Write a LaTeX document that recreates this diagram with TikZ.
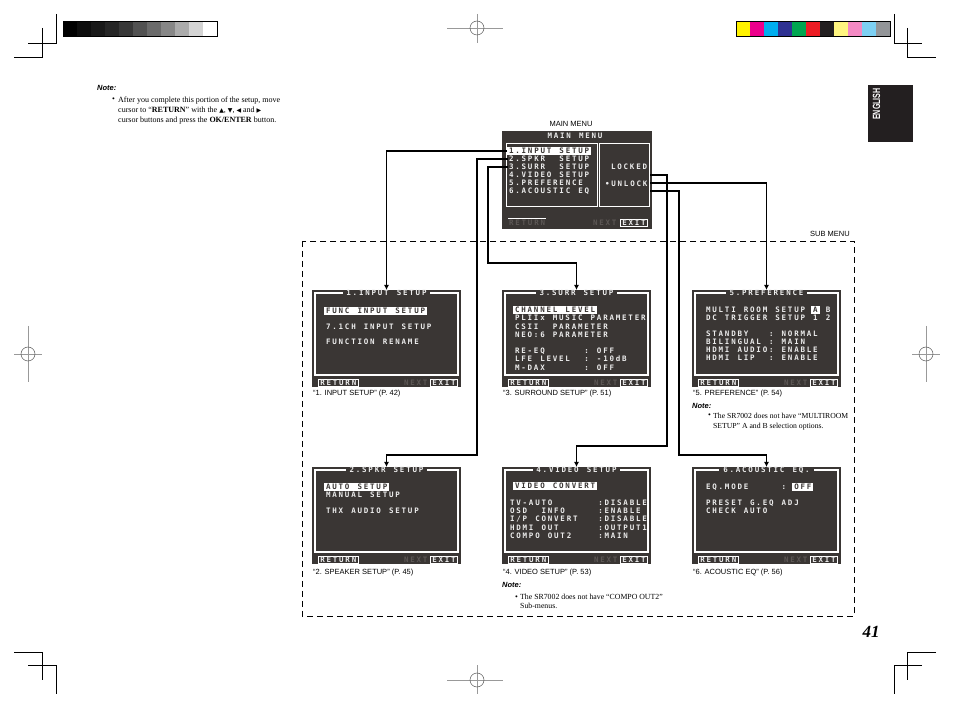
\documentclass[tikz,border=0pt]{standalone}
\usepackage{fontspec}
\setmainfont{Liberation Serif}
\setsansfont{Liberation Sans}
\newfontfamily\osdfont{DejaVu Sans Mono}
\newfontfamily\symfont{DejaVu Sans}
\newfontfamily\tabfont[FakeStretch=0.68]{Liberation Sans}
\usetikzlibrary{arrows.meta}

\definecolor{scr}{RGB}{58,54,52}
\definecolor{osdtxt}{RGB}{236,236,236}
\definecolor{dimtxt}{RGB}{92,87,85}
\definecolor{tabc}{RGB}{35,31,32}
\definecolor{cbY}{RGB}{255,242,0}
\definecolor{cbM}{RGB}{236,0,140}
\definecolor{cbC}{RGB}{0,174,239}
\definecolor{cbB}{RGB}{46,49,146}
\definecolor{cbG}{RGB}{0,166,81}
\definecolor{cbR}{RGB}{237,28,36}
\definecolor{cbK}{RGB}{35,31,32}
\definecolor{cbLY}{RGB}{255,245,128}
\definecolor{cbP}{RGB}{244,138,196}
\definecolor{cbLC}{RGB}{125,208,243}
\definecolor{cbGr}{RGB}{147,149,152}

\newcommand{\osdtype}{\osdfont\bfseries\fontsize{7.5}{8}\selectfont}
\newcommand{\tri}[1]{{\symfont\fontsize{6}{6}\selectfont #1}}

% fixed pitch screen text, _ stands for a blank cell
\ExplSyntaxOn
\cs_new_protected:Npn \osd_str:n #1
  {
    \str_map_inline:nn {#1}
      { \makebox[6.3pt]{ \str_if_eq:nnF {##1} {_} {##1} } }
  }
\cs_generate_variant:Nn \osd_str:n { o }
\NewDocumentCommand{\ostr}{m}{ \osd_str:o {#1} }
\ExplSyntaxOff

\tikzset{
  pics/subscreen/.style={code={
    \fill[scr] (0,0) rectangle (149,97);
    \draw[white, line width=1.1pt] (3,3) rectangle (146,85);
    \node[osd, anchor=center, fill=scr, inner xsep=3pt] (-title) at (74.5,3) {\ostr{#1}};
    \node[osdbox, anchor=west] (-ret) at (6,92.5) {\ostr{RETURN}};
    \node[osddim] (-next) at (91,92.5) {\ostr{NEXT}};
    \node[osdbox, anchor=east] (-exit) at (146,92.5) {\ostr{EXIT}};
    \coordinate (-top) at (74.5,0);
  }}
}

\begin{document}
\begin{tikzpicture}[x=1pt, y=-1pt,
    osd/.style={anchor=west, inner sep=0pt, text=osdtxt, font=\osdtype},
    osdhi/.style={osd, fill=white, text=scr, inner xsep=1pt, inner ysep=1pt},
    osddim/.style={osd, text=dimtxt},
    osdbox/.style={draw=white, line width=0.8pt, inner xsep=1pt, inner ysep=0.8pt, text=osdtxt, font=\osdtype},
    panel/.style={draw=white, line width=1pt, inner sep=0pt, anchor=north west},
    tolink/.style={black, line width=1.2pt, -{Latex[length=5pt,width=5pt]}},
    caption/.style={anchor=west, inner sep=0pt, font=\sffamily\fontsize{7.5}{9}\selectfont},
    notehead/.style={anchor=west, inner sep=0pt, font=\sffamily\bfseries\itshape\fontsize{7.5}{9}\selectfont},
    notebody/.style={anchor=north west, inner sep=0pt, align=left, font=\fontsize{8}{10}\selectfont},
    bullet/.style={anchor=base west, inner sep=0pt, font=\fontsize{8}{10}\selectfont},
    regline/.style={line width=0.6pt, black!40},
    crop/.style={line width=0.6pt, black}]
  \useasboundingbox[fill=white] (0,0) rectangle (954,708);

  % print marks
  \foreach \c [count=\i from 0] in {black, black!95, black!90, black!85, black!78, black!68, black!58, black!47, black!33, black!17, white}
    \fill[\c] ({63+14*\i},21) rectangle ++(14,15);
  \draw[line width=0.6pt] (63,21) rectangle (217,36);
  \foreach \c [count=\i from 0] in {cbY, cbM, cbC, cbB, cbG, cbR, cbK, cbLY, cbP, cbLC, cbGr}
    \fill[\c] ({736+14*\i},21) rectangle ++(14,15);
  \draw[line width=0.6pt] (736,21) rectangle (890,36);
  \draw[crop] (56,14) -- (56,43) -- (28,43) (42,28) -- (42,57) -- (14,57);
  \draw[crop] (894,14) -- (894,43) -- (922,43) (907,28) -- (907,57) -- (936,57);
  \draw[crop] (14,652) -- (42,652) -- (42,680) (28,665) -- (56,665) -- (56,694);
  \draw[crop] (936,652) -- (907,652) -- (907,680) (922,665) -- (894,665) -- (894,694);
  \draw[regline] (447,28) -- (503,28) (477,14) -- (477,43) (447,680) -- (503,680) (477,665) -- (477,694);
  \draw[regline] (14,354) -- (42,354) (28,326) -- (28,382) (912,354) -- (940,354) (926,326) -- (926,382);
  \draw[black!65, line width=0.5pt] (477,28) circle (7) (477,680) circle (7) (28,354) circle (7) (926,354) circle (7);

  % note, tab, page number
  \node[notehead] (note0) at (97,88) {Note:};
  \node[bullet] (bul0) at (112,102) {•};
  \node[notebody] (note0t) at (118,96.5) {After you complete this portion of the setup, move\\
    cursor to ``\textbf{RETURN}'' with the \tri{▲}, \tri{▼}, \tri{◀} and \tri{▶}\\
    cursor buttons and press the \textbf{OK/ENTER} button.};
  \node[fill=tabc, inner sep=0pt, minimum width=45pt, minimum height=57pt, anchor=north west] (tab) at (868,85) {};
  \node[rotate=90, text=white, inner sep=0pt, font=\tabfont\bfseries\fontsize{10.5}{10}\selectfont] (eng) at (876.5,104) {ENGLISH};
  \node[font=\bfseries\itshape\fontsize{17}{17}\selectfont] (pagenum) at (871,632) {41};

  % main menu
  \node[caption, anchor=center] (mainlbl) at (571,124) {MAIN MENU};
  \fill[scr] (502,131) rectangle (652,229);
  \node[osd, anchor=center] (mtitle) at (575,135.5) {\ostr{MAIN MENU}};
  \node[panel, minimum width=91pt, minimum height=63pt] (lpanel) at (506,143) {};
  \node[panel, minimum width=50pt, minimum height=63pt] (rpanel) at (599,143) {};
  \node[osdhi] (mm1) at (507,151) {\ostr{1.INPUT SETUP}};
  \foreach \t [count=\i from 2] in {2.SPKR__SETUP, 3.SURR__SETUP, 4.VIDEO SETUP, 5.PREFERENCE, 6.ACOUSTIC EQ}
    \node[osd] (mm\i) at (508,{143+8*\i}) {\ostr{\t}};
  \node[osd] (locked) at (610,167) {\ostr{LOCKED}};
  \node[osd] (unlock) at (604,184) {\ostr{•UNLOCK}};
  \node[osddim] (mret) at (508,223) {\ostr{RETURN}};
  \draw[white, line width=0.8pt] ([yshift=2pt]mret.north west) -- ([yshift=2pt]mret.north east);
  \node[osddim] (mnext) at (592,223) {\ostr{NEXT}};
  \node[osdbox, anchor=east] (mexit) at (648,223) {\ostr{EXIT}};

  % sub menus
  \draw[dash pattern=on 6pt off 4pt, line width=0.7pt] (302,241) rectangle (854,616);
  \node[caption, anchor=east] (sublbl) at (850,234) {SUB MENU};

  \begin{scope}[shift={(312,290)}]
    \pic (s1) {subscreen={1.INPUT SETUP}};
    \node[osdhi] (s1a) at (12,21) {\ostr{FUNC INPUT SETUP}};
    \node[osd] (s1b) at (13,37) {\ostr{7.1CH INPUT SETUP}};
    \node[osd] (s1c) at (13,52) {\ostr{FUNCTION RENAME}};
  \end{scope}
  \begin{scope}[shift={(502,290)}]
    \pic (s3) {subscreen={3.SURR SETUP}};
    \node[osdhi] (s3a) at (11,20) {\ostr{CHANNEL LEVEL}};
    \foreach \t [count=\i] in {PLIIx MUSIC PARAMETER, CSII__PARAMETER, NEO:6 PARAMETER}
      \node[osd] (s3b\i) at (12,{20+8.2*\i}) {\ostr{\t}};
    \foreach \t [count=\i] in {RE-EQ______: OFF, LFE LEVEL__: -10dB, M-DAX______: OFF}
      \node[osd] (s3c\i) at (12,{52.8+8.2*\i}) {\ostr{\t}};
  \end{scope}
  \begin{scope}[shift={(692,290)}]
    \pic (s5) {subscreen={5.PREFERENCE}};
    \node[osd] (s5a) at (13,20) {\ostr{MULTI ROOM SETUP}};
    \node[osdhi] (s5aa) at (119.1,20) {\ostr{A}};
    \node[osd] (s5ab) at (132.7,20) {\ostr{B}};
    \node[osd] (s5b) at (13,28) {\ostr{DC TRIGGER SETUP}};
    \node[osd] (s5ba) at (120.1,28) {\ostr{1}};
    \node[osd] (s5bb) at (132.7,28) {\ostr{2}};
    \foreach \t [count=\i] in {STANDBY___: NORMAL, BILINGUAL : MAIN, HDMI AUDIO: ENABLE, HDMI LIP__: ENABLE}
      \node[osd] (s5c\i) at (13,{36+8*\i}) {\ostr{\t}};
  \end{scope}
  \begin{scope}[shift={(312,467)}]
    \pic (s2) {subscreen={2.SPKR SETUP}};
    \node[osdhi] (s2a) at (12,20) {\ostr{AUTO SETUP}};
    \node[osd] (s2b) at (13,27.5) {\ostr{MANUAL SETUP}};
    \node[osd] (s2c) at (13,44) {\ostr{THX AUDIO SETUP}};
  \end{scope}
  \begin{scope}[shift={(502,467)}]
    \pic (s4) {subscreen={4.VIDEO SETUP}};
    \node[osdhi] (s4a) at (11,19) {\ostr{VIDEO CONVERT}};
    \foreach \t [count=\i] in {TV-AUTO_______:DISABLE, OSD__INFO_____:ENABLE, I/P CONVERT___:DISABLE, HDMI OUT______:OUTPUT1, COMPO OUT2____:MAIN}
      \node[osd] (s4b\i) at (7,{28+8.1*\i}) {\ostr{\t}};
  \end{scope}
  \begin{scope}[shift={(692,467)}]
    \pic (s6) {subscreen={6.ACOUSTIC EQ.}};
    \node[osd] (s6a) at (13,20) {\ostr{EQ.MODE_____:}};
    \node[osdhi] (s6aa) at (100.2,20) {\ostr{OFF}};
    \node[osd] (s6b) at (13,36) {\ostr{PRESET G.EQ ADJ}};
    \node[osd] (s6c) at (13,44) {\ostr{CHECK AUTO}};
  \end{scope}

  \node[caption] (c1) at (313,394) {“1. INPUT SETUP” (P. 42)};
  \node[caption] (c3) at (503,394) {“3. SURROUND SETUP” (P. 51)};
  \node[caption] (c5) at (693,394) {“5. PREFERENCE” (P. 54)};
  \node[caption] (c2) at (313,573) {“2. SPEAKER SETUP” (P. 45)};
  \node[caption] (c4) at (503,573) {“4. VIDEO SETUP” (P. 53)};
  \node[caption] (c6) at (693,573) {“6. ACOUSTIC EQ” (P. 56)};

  \node[notehead] (note5) at (692,406) {Note:};
  \node[bullet] (bul5) at (708,418) {•};
  \node[notebody, font=\fontsize{7.7}{10}\selectfont] (note5t) at (713,412.7) {The SR7002 does not have ``MULTIROOM\\SETUP'' A and B selection options.};
  \node[notehead] (note4) at (502,585) {Note:};
  \node[bullet] (bul4) at (515,599) {•};
  \node[notebody, font=\fontsize{7.8}{9.5}\selectfont] (note4t) at (520,593.7) {The SR7002 does not have ``COMPO OUT2''\\Sub-menus.};

  % connectors
  \coordinate (bend2) at (477,455);
  \coordinate (bend3) at (488,263);
  \coordinate (bend4) at (667,446);
  \coordinate (bend6) at (679,455);
  \draw[tolink] (mm1.west) -| (s1-top);
  \draw[tolink] (mm2.west) -| (bend2) -| (s2-top);
  \draw[tolink] (mm3.west) -| (bend3) -| (s3-top);
  \draw[tolink] (mm4 -| rpanel.east) -| (bend4) -| (s4-top);
  \draw[tolink] (mm5 -| rpanel.east) -| (s5-top);
  \draw[tolink] (mm6 -| rpanel.east) -| (bend6) -| (s6-top);
\end{tikzpicture}
\end{document}
